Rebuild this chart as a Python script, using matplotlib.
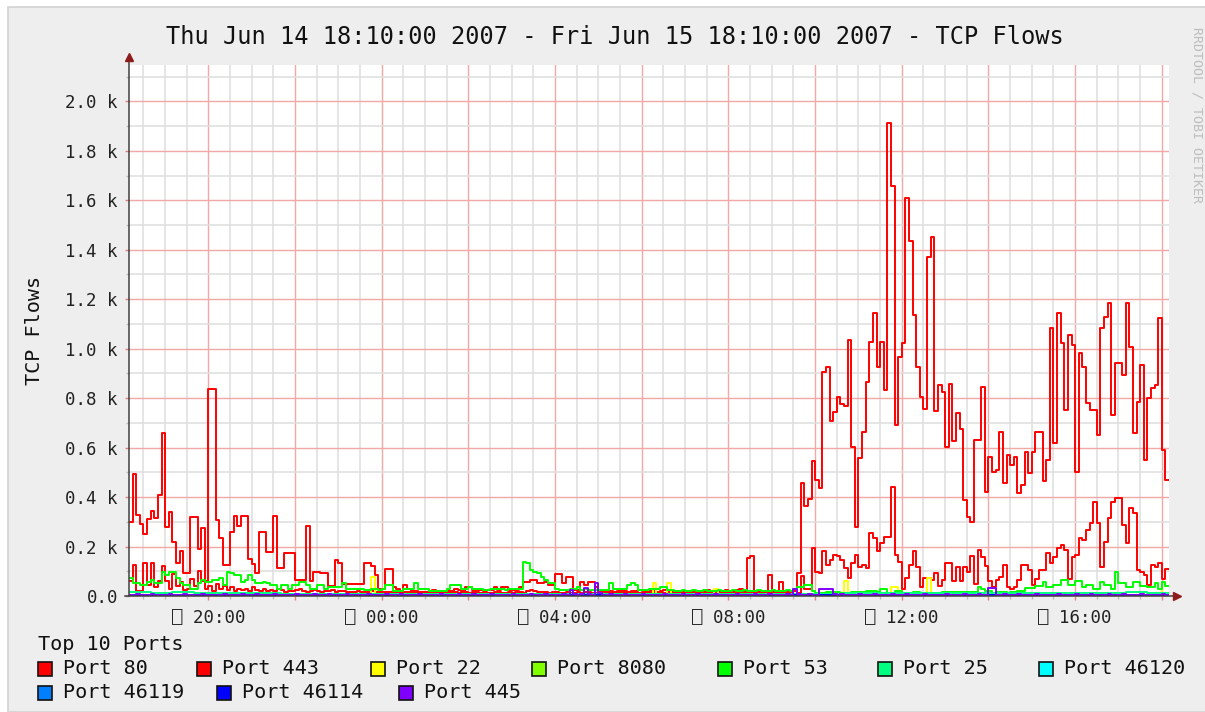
import numpy as np
import matplotlib
matplotlib.use("Agg")
import matplotlib.pyplot as plt
from matplotlib.patches import Rectangle
from matplotlib.ticker import FixedLocator, FixedFormatter

plt.rcParams['font.family'] = ['DejaVu Sans Mono', 'DejaVu Sans']

# ---------------- texts ----------------
title = "Thu Jun 14 18:10:00 2007 - Fri Jun 15 18:10:00 2007 - TCP Flows"
y_label = "TCP Flows"
legend_title = "Top 10 Ports"
watermark = "RRDTOOL / TOBI OETIKER"

# ---------------- data (flows, starting Thu 18:10) ----------------
step_fine = 5     # minutes per sample
step_coarse = 30  # minutes per sample (near-zero series)

port_80 = [
    300, 492, 327, 290, 250, 310, 345, 315, 410, 660, 280, 340, 220, 135, 180, 92, 92, 320, 320, 190, 275, 60, 836, 836,
    307, 233, 125, 125, 260, 323, 283, 323, 323, 148, 131, 92, 260, 260, 179, 179, 323, 112, 112, 172, 175, 175, 65, 65,
    65, 284, 60, 99, 99, 92, 92, 42, 42, 145, 132, 50, 50, 50, 50, 50, 50, 132, 132, 120, 85, 30, 30, 108,
    108, 38, 30, 22, 44, 27, 22, 22, 18, 17, 17, 22, 25, 22, 22, 18, 20, 22, 30, 25, 22, 38, 38, 24,
    24, 24, 24, 24, 24, 35, 24, 35, 35, 24, 24, 24, 35, 58, 58, 64, 64, 51, 51, 58, 44, 44, 89, 89,
    51, 75, 75, 24, 24, 58, 44, 58, 58, 38, 24, 22, 20, 22, 18, 20, 24, 22, 18, 20, 22, 24, 20, 18,
    22, 20, 18, 22, 24, 20, 18, 22, 20, 18, 22, 20, 17, 15, 20, 22, 24, 20, 22, 18, 20, 24, 22, 20,
    24, 28, 20, 152, 162, 15, 15, 15, 15, 85, 20, 20, 58, 20, 20, 20, 20, 92, 456, 362, 394, 545, 470, 436,
    907, 925, 709, 743, 803, 776, 769, 1036, 604, 280, 557, 664, 866, 1029, 1143, 925, 1029, 832, 1911, 1656, 691, 967, 1021, 1608,
    1434, 1136, 925, 803, 756, 1372, 1453, 749, 853, 826, 601, 859, 628, 741, 676, 388, 320, 300, 631, 631, 846, 420, 563, 502,
    508, 664, 456, 570, 529, 563, 415, 449, 584, 496, 584, 664, 664, 463, 550, 1082, 617, 1143, 1022, 752, 1055, 1015, 503, 981,
    927, 779, 752, 752, 651, 1082, 1129, 1183, 732, 941, 941, 894, 1183, 1008, 658, 786, 934, 550, 799, 840, 853, 1123, 590, 469,
]

port_443 = [
    60, 125, 20, 20, 132, 44, 132, 37, 60, 120, 60, 30, 90, 40, 55, 25, 30, 70, 40, 100, 60, 30, 40, 20,
    50, 30, 40, 25, 35, 20, 30, 25, 30, 20, 35, 25, 20, 30, 22, 25, 20, 30, 25, 18, 22, 20, 25, 30,
    20, 18, 22, 25, 20, 18, 22, 20, 25, 18, 20, 22, 18, 15, 18, 20, 16, 15, 18, 20, 15, 16, 18, 15,
    16, 18, 15, 14, 16, 18, 15, 14, 16, 15, 14, 18, 16, 15, 14, 16, 15, 18, 16, 14, 15, 16, 14, 15,
    16, 14, 15, 13, 14, 16, 15, 14, 13, 15, 14, 16, 15, 14, 20, 25, 22, 18, 16, 15, 14, 16, 15, 14,
    13, 15, 14, 13, 15, 14, 16, 15, 14, 13, 15, 14, 13, 12, 14, 13, 15, 14, 13, 12, 14, 13, 12, 14,
    13, 12, 14, 13, 12, 14, 13, 12, 13, 14, 12, 13, 14, 12, 13, 12, 14, 13, 12, 13, 14, 12, 13, 14,
    12, 13, 14, 12, 13, 12, 14, 13, 12, 14, 13, 12, 14, 12, 13, 12, 10, 12, 80, 28, 28, 193, 99, 92,
    180, 126, 146, 166, 160, 146, 112, 72, 132, 166, 119, 126, 112, 253, 233, 180, 213, 240, 240, 442, 166, 139, 28, 72,
    126, 180, 119, 35, 72, 72, 66, 92, 41, 66, 132, 132, 59, 119, 59, 119, 99, 160, 48, 186, 159, 120, 60, 37,
    64, 78, 124, 37, 30, 37, 64, 124, 124, 104, 44, 70, 104, 104, 172, 132, 159, 193, 206, 186, 70, 159, 166, 233,
    226, 267, 294, 381, 294, 117, 220, 314, 381, 395, 395, 287, 213, 354, 334, 104, 98, 84, 44, 124, 117, 132, 70, 110,
]

port_22 = [
    4, 3, 5, 4, 3, 6, 4, 5, 3, 4, 6, 5, 4, 3, 5, 4, 6, 4, 3, 5, 4, 3, 5, 4,
    5, 4, 3, 6, 4, 5, 3, 4, 5, 6, 4, 3, 5, 4, 3, 5, 6, 4, 3, 4, 5, 3, 4, 5,
    4, 3, 5, 4, 6, 4, 3, 5, 4, 3, 5, 4, 6, 4, 3, 5, 4, 3, 5, 78, 5, 4, 3, 4,
    4, 5, 3, 4, 6, 4, 5, 3, 4, 5, 4, 3, 5, 6, 4, 3, 5, 4, 3, 5, 4, 6, 4, 3,
    5, 4, 3, 5, 4, 6, 4, 3, 5, 4, 3, 5, 4, 6, 4, 5, 3, 4, 5, 4, 3, 5, 4, 6,
    4, 3, 5, 4, 6, 4, 5, 3, 4, 5, 4, 3, 5, 4, 6, 4, 3, 5, 4, 3, 5, 4, 6, 4,
    5, 51, 8, 5, 6, 54, 5, 4, 3, 5, 4, 6, 4, 3, 5, 4, 3, 5, 27, 4, 3, 5, 4, 6,
    4, 3, 5, 4, 6, 4, 5, 3, 4, 5, 4, 3, 5, 4, 6, 4, 3, 5, 4, 3, 5, 4, 6, 4,
    5, 4, 3, 5, 4, 6, 62, 5, 4, 3, 5, 4, 6, 4, 5, 3, 4, 5, 4, 38, 38, 5, 4, 3,
    5, 4, 6, 4, 3, 71, 5, 4, 3, 5, 4, 6, 4, 5, 3, 4, 5, 4, 3, 5, 4, 6, 4, 3,
    5, 4, 3, 5, 6, 4, 5, 3, 4, 5, 4, 3, 5, 4, 6, 4, 3, 5, 4, 3, 5, 4, 6, 4,
    5, 4, 3, 5, 4, 6, 4, 5, 3, 4, 5, 4, 3, 5, 4, 6, 4, 5, 3, 4, 5, 4, 58, 40,
]

port_53 = [
    71, 51, 51, 44, 44, 58, 64, 51, 51, 99, 85, 99, 99, 71, 51, 44, 44, 30, 30, 51, 64,
    58, 58, 64, 64, 71, 44, 99, 92, 85, 85, 58, 64, 85, 64, 51, 51, 58, 51, 44, 44,
    30, 44, 44, 30, 44, 44, 58, 58, 44, 30, 30, 44, 44, 30, 37, 37, 37, 37, 51, 30,
    30, 30, 30, 28, 25, 25, 30, 30, 25, 30, 44, 44, 20, 20, 20, 30, 30, 30, 51, 30,
    30, 30, 20, 20, 20, 20, 20, 30, 44, 44, 44, 30, 30, 38, 30, 30, 27, 25, 25, 27,
    27, 30, 27, 25, 27, 27, 30, 30, 139, 132, 105, 98, 91, 78, 64, 51, 51, 30, 24, 24,
    24, 27, 27, 38, 24, 30, 24, 24, 24, 24, 24, 24, 51, 30, 30, 30, 30, 44, 51, 44,
    24, 24, 25, 30, 30, 30, 35, 35, 24, 24, 22, 22, 25, 22, 22, 25, 22, 22, 25, 22,
    22, 22, 25, 22, 22, 22, 25, 22, 22, 25, 22, 22, 22, 25, 22, 22, 22, 25, 22, 22, 22, 25, 22, 30, 38, 38,
    44, 44, 20, 12, 12, 12, 17, 17, 15, 15, 12, 12, 12, 15, 15, 15, 15, 20, 20, 20,
    17, 27, 27, 12, 12, 20, 20, 12, 12, 12, 15, 15, 12, 12, 12, 12, 12, 12, 15, 15,
    15, 15, 15, 15, 15, 15, 15, 15, 38,
    27, 20, 20, 12, 15, 17, 15, 12, 17, 17, 20, 20, 31, 31, 31, 40, 40, 58, 38, 38,
    44, 44, 64, 64, 44, 44, 62, 62, 38, 44, 44, 27, 27, 55, 44, 44, 30, 98, 51, 51,
    38, 38, 55, 55, 40, 40, 38, 38, 51, 30, 58, 40,
]

port_445 = [
    6, 5, 7, 6, 5, 6, 7, 5, 6, 6, 5, 7, 6, 5, 6, 7, 5, 6, 6, 5, 7, 6, 5, 6,
    5, 6, 7, 5, 6, 6, 5, 7, 6, 5, 6, 7, 5, 6, 6, 5, 7, 6, 5, 6, 5, 6, 7, 5,
    6, 6, 5, 7, 6, 5, 6, 7, 5, 6, 6, 5, 7, 6, 5, 6, 5, 6, 7, 5, 6, 6, 5, 7,
    6, 5, 6, 7, 5, 6, 6, 5, 7, 6, 5, 6, 5, 6, 7, 5, 6, 6, 5, 7, 6, 5, 6, 7,
    5, 6, 6, 5, 7, 6, 5, 6, 5, 6, 7, 5, 6, 6, 5, 7, 6, 5, 6, 7, 5, 6, 6, 5,
    7, 6, 24, 10, 6, 7, 31, 8, 6, 51, 12, 6, 5, 7, 6, 5, 6, 7, 5, 6, 6, 5, 7, 6,
    5, 6, 5, 6, 7, 5, 6, 6, 5, 7, 6, 5, 6, 7, 5, 6, 6, 5, 7, 6, 5, 6, 5, 6,
    7, 5, 6, 6, 5, 7, 6, 5, 6, 7, 5, 6, 6, 5, 7, 6, 27, 8, 6, 5, 7, 6, 5, 27,
    27, 27, 27, 8, 6, 7, 5, 6, 6, 5, 7, 6, 5, 6, 7, 5, 6, 6, 5, 7, 6, 5, 6, 7,
    5, 6, 6, 5, 7, 6, 5, 6, 5, 6, 7, 5, 6, 6, 5, 7, 6, 5, 6, 7, 5, 6, 31, 31,
    6, 5, 7, 6, 5, 6, 7, 5, 6, 6, 5, 7, 6, 5, 6, 5, 6, 7, 5, 6, 6, 5, 7, 6,
    5, 6, 7, 5, 6, 6, 5, 7, 6, 5, 6, 7, 5, 6, 6, 5, 7, 6, 5, 6, 5, 6, 7, 5,
]

port_8080 = [3, 4, 3, 5, 4, 3, 4, 3, 3, 4, 3, 2, 3, 3, 2, 3, 2, 3, 3, 2, 3, 2, 3, 3,
             2, 3, 3, 4, 3, 3, 4, 4, 5, 4, 4, 5, 4, 4, 5, 5, 4, 5, 4, 5, 5, 4, 5, 4]
port_25 = [15, 14, 16, 13, 12, 12, 11, 10, 10, 9, 9, 8, 8, 8, 7, 8, 7, 7, 8, 9, 10, 8, 7, 8,
           7, 7, 8, 8, 9, 10, 10, 9, 10, 11, 12, 12, 13, 12, 11, 12, 13, 14, 13, 12, 13, 14, 15, 14]
port_46120 = [2, 2, 3, 2, 2, 2, 3, 2, 2, 2, 2, 1, 2, 2, 1, 2, 2, 1, 2, 2, 1, 2, 2, 2,
              1, 2, 2, 2, 2, 2, 3, 2, 3, 3, 2, 3, 3, 2, 3, 3, 2, 3, 3, 2, 3, 3, 2, 3]
port_46119 = [3, 2, 3, 3, 2, 3, 2, 2, 3, 2, 2, 2, 2, 1, 2, 2, 2, 1, 2, 2, 2, 2, 1, 2,
              2, 2, 2, 3, 2, 2, 3, 3, 3, 2, 3, 3, 3, 2, 3, 3, 3, 3, 2, 3, 3, 3, 3, 2]
port_46114 = [4, 3, 4, 4, 3, 4, 3, 3, 4, 3, 3, 3, 2, 3, 3, 2, 3, 3, 2, 3, 3, 3, 2, 3,
              3, 3, 3, 4, 3, 3, 4, 4, 4, 3, 4, 4, 4, 3, 4, 4, 4, 4, 3, 4, 4, 4, 4, 3]

series_labels = ["Port 80", "Port 443", "Port 22", "Port 8080", "Port 53",
                 "Port 25", "Port 46120", "Port 46119", "Port 46114", "Port 445"]
series_values = [port_80, port_443, port_22, port_8080, port_53,
                 port_25, port_46120, port_46119, port_46114, port_445]
series_steps = [step_fine, step_fine, step_fine, step_coarse, step_fine,
                step_coarse, step_coarse, step_coarse, step_coarse, step_fine]
series_colors = ["#FF0000", "#FF0000", "#FFFF00", "#80FF00", "#00FF00",
                 "#00FF80", "#00FFFF", "#0080FF", "#0000FF", "#8000FF"]

# axis ticks (minutes after 18:10)
x_grid_major = list(range(110, 1441, 120))
x_label_minutes = [110, 350, 590, 830, 1070, 1310]
x_label_texts = ["\u2395 20:00", "\u2395 00:00", "\u2395 04:00",
                 "\u2395 08:00", "\u2395 12:00", "\u2395 16:00"]
y_ticks = [0, 200, 400, 600, 800, 1000, 1200, 1400, 1600, 1800, 2000]
y_tick_labels = ["0.0", "0.2 k", "0.4 k", "0.6 k", "0.8 k", "1.0 k",
                 "1.2 k", "1.4 k", "1.6 k", "1.8 k", "2.0 k"]

# ---------------- figure ----------------
W, H = 1205, 712
fig = plt.figure(figsize=(W / 100, H / 100), dpi=100, facecolor="white")
fig.add_artist(Rectangle((8 / W, 0), 1.0, 1 - 7 / H, transform=fig.transFigure,
                         facecolor="#EEEEEE", edgecolor="#D2D2D2", lw=1.2, zorder=-10))

ax = fig.add_axes([129 / W, 116 / H, 1040 / W, 531 / H])
ax.set_facecolor("white")
ax.set_xlim(0, 1440)
ax.set_ylim(0, 2147)
for s in ax.spines.values():
    s.set_visible(False)

# grid
ax.xaxis.set_major_locator(FixedLocator(x_grid_major))
ax.xaxis.set_major_formatter(FixedFormatter(
    [x_label_texts[x_label_minutes.index(m)] if m in x_label_minutes else "" for m in x_grid_major]))
ax.xaxis.set_minor_locator(FixedLocator(list(range(20, 1440, 30))))
ax.yaxis.set_major_locator(FixedLocator(y_ticks))
ax.yaxis.set_major_formatter(FixedFormatter(y_tick_labels))
ax.yaxis.set_minor_locator(FixedLocator(list(range(100, 2147, 200))))
ax.set_axisbelow(True)
ax.grid(which="minor", color="#DEDEDE", lw=1.1)
ax.grid(which="major", color="#F3A8A8", lw=1.0)
ax.tick_params(which="major", length=3, width=1, color="#E08080",
               labelsize=12.5, labelcolor="#222222")
ax.tick_params(which="minor", length=2, width=1, color="#BBBBBB")
ax.tick_params(axis="x", which="major", pad=6)
ax.tick_params(axis="y", which="major", pad=5)

# series
for vals, stp, col in zip(series_values, series_steps, series_colors):
    v = np.asarray(vals, dtype=float)
    t = np.arange(len(v) + 1) * stp
    ax.step(t, np.append(v, v[-1]), where="post", color=col, lw=1.4, zorder=3)

# axes lines with arrows
ax.plot([0, 0], [0, 1.008], transform=ax.transAxes, color="#404040", lw=1.1,
        clip_on=False, zorder=5)
ax.plot([-0.004, 1.006], [0, 0], transform=ax.transAxes, color="#404040", lw=1.1,
        clip_on=False, zorder=5)
ax.plot([0], [1.015], marker="^", ms=6, color="#8E1B1B", transform=ax.transAxes,
        clip_on=False, zorder=6)
ax.plot([1.0075], [0], marker=">", ms=6, color="#8E1B1B", transform=ax.transAxes,
        clip_on=False, zorder=6)

# texts
fig.text(615 / W, 1 - 37 / H, title, ha="center", va="center", fontsize=17, color="#111111")
fig.text(35 / W, 1 - 330 / H, y_label, rotation=90, ha="center", va="center",
         fontsize=14.5, color="#111111")
fig.text(1197 / W, 1 - 115 / H, watermark, rotation=270, ha="center", va="center",
         fontsize=9.5, color="#BDBDBD")

# legend
fig.text(38 / W, 1 - 645 / H, legend_title, ha="left", va="center", fontsize=14.5, color="#111111")
legend_x_px = [38, 197, 371, 532, 718, 878, 1039, 38, 217, 399]
legend_y_px = [669] * 7 + [693] * 3
for lab, col, lx, ly in zip(series_labels, series_colors, legend_x_px, legend_y_px):
    fig.add_artist(Rectangle((lx / W, 1 - (ly + 7) / H), 14 / W, 14 / H,
                             transform=fig.transFigure, facecolor=col,
                             edgecolor="#111111", lw=1.2))
    fig.text((lx + 25) / W, 1 - ly / H, lab, ha="left", va="center",
             fontsize=14.5, color="#111111")

fig.savefig("out.png", dpi=100, facecolor=fig.get_facecolor())
